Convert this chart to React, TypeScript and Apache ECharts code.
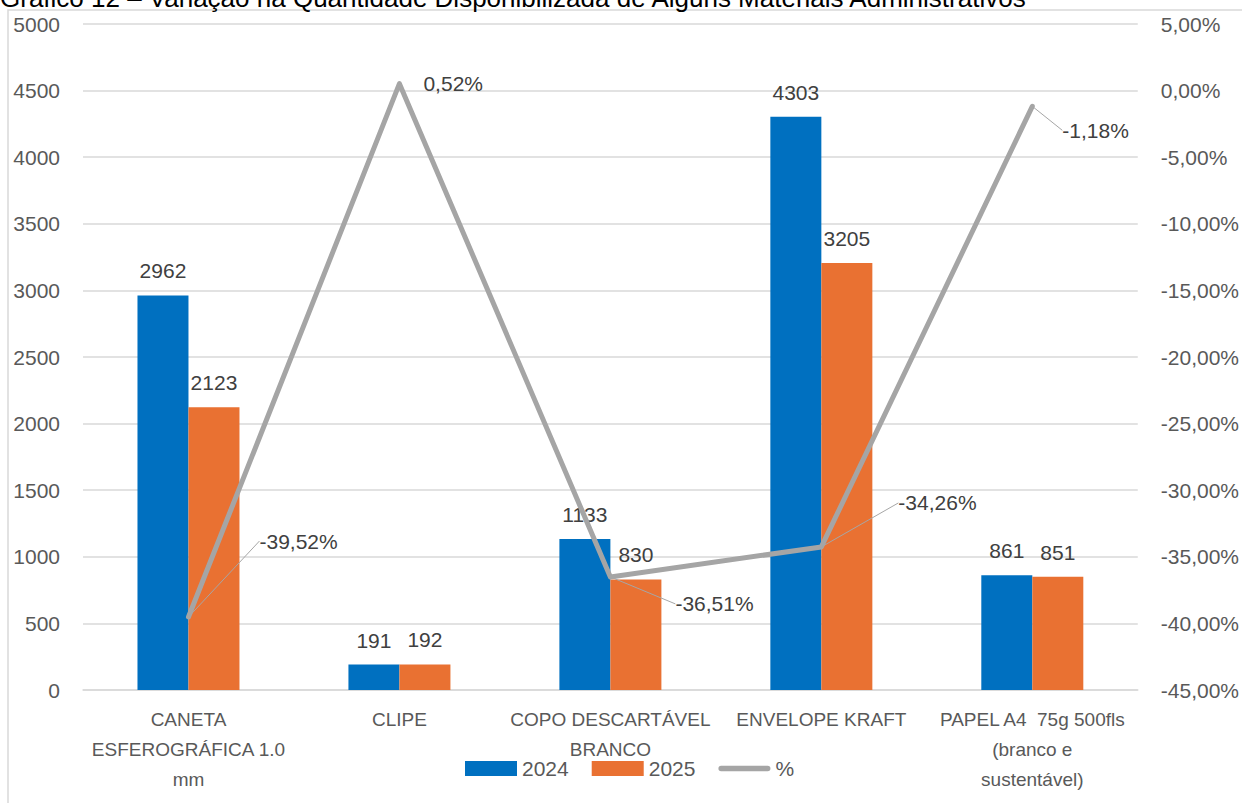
import React, { useEffect, useRef } from "react";
import * as echarts from "echarts";

const titleText =
  "Gráfico 12 – Variação na Quantidade Disponibilizada de Alguns Materiais Administrativos";
const categories = [
  "CANETA\nESFEROGRÁFICA 1.0\nmm",
  "CLIPE",
  "COPO DESCARTÁVEL\nBRANCO",
  "ENVELOPE KRAFT",
  "PAPEL A4  75g 500fls\n(branco e\nsustentável)",
];
const values2024 = [2962, 191, 1133, 4303, 861];
const values2025 = [2123, 192, 830, 3205, 851];
const pctChange = [-39.52, 0.52, -36.51, -34.26, -1.18];
// label displacement (style only)
const pctLabelOffsets = [
  [65, -76, true],
  [18, 0, false],
  [59, 27, true],
  [71, -44, true],
  [24, 24, true],
];

const FONT = "'Liberation Sans', Arial, sans-serif";
const fmtPct = (v: number) => v.toFixed(2).replace(".", ",") + "%";

export default function App() {
  const ref = useRef<HTMLDivElement>(null);
  useEffect(() => {
    const chart = echarts.init(ref.current!, null, { renderer: "svg" });
    chart.setOption({
      animation: false,
      backgroundColor: "#ffffff",
      textStyle: { fontFamily: FONT },
      graphic: [
        {
          type: "rect",
          shape: { x: 8, y: 10, width: 1400, height: 900 },
          style: { fill: "none", stroke: "#D9D9D9", lineWidth: 1.5 },
          silent: true,
        },
        {
          type: "text",
          x: 0,
          y: 11,
          style: {
            text: titleText,
            font: `26px ${FONT}`,
            fill: "#000000",
            verticalAlign: "bottom",
          },
          silent: true,
        },
      ],
      grid: { left: 83, right: 103, top: 24, bottom: 113 },
      legend: {
        left: 460,
        top: 753,
        itemWidth: 52,
        itemHeight: 15,
        itemGap: 23,
        textStyle: { fontSize: 21, color: "#595959", fontFamily: FONT },
        data: [
          { name: "2024", icon: "rect" },
          { name: "2025", icon: "rect" },
          {
            name: "%",
            icon: "path://M2.5,0 H45.5 A2.5,2.5 0 0 1 45.5,5 H2.5 A2.5,2.5 0 0 1 2.5,0 Z",
            itemStyle: { color: "#A5A5A5" },
          },
        ],
      },
      xAxis: {
        type: "category",
        data: categories,
        axisLine: { lineStyle: { color: "#D9D9D9", width: 1.5 } },
        axisTick: { show: false },
        axisLabel: {
          interval: 0,
          color: "#595959",
          fontSize: 19,
          lineHeight: 30,
          margin: 14,
          fontFamily: FONT,
        },
      },
      yAxis: [
        {
          type: "value",
          min: 0,
          max: 5000,
          interval: 500,
          axisLine: { show: false },
          axisTick: { show: false },
          splitLine: { lineStyle: { color: "#D9D9D9", width: 1.5 } },
          axisLabel: {
            color: "#595959",
            fontSize: 21,
            margin: 23,
            fontFamily: FONT,
            formatter: (v: number) => String(v),
          },
        },
        {
          type: "value",
          min: -45,
          max: 5,
          interval: 5,
          axisLine: { show: false },
          axisTick: { show: false },
          splitLine: { show: false },
          axisLabel: {
            color: "#595959",
            fontSize: 21,
            margin: 23,
            fontFamily: FONT,
            formatter: (v: number) => fmtPct(v),
          },
        },
      ],
      series: [
        {
          name: "2024",
          type: "bar",
          data: values2024,
          barWidth: 51,
          barGap: "0%",
          itemStyle: { color: "#0070C0" },
          label: {
            show: true,
            position: "top",
            distance: 14,
            color: "#404040",
            fontSize: 21,
            fontFamily: FONT,
          },
        },
        {
          name: "2025",
          type: "bar",
          data: values2025,
          barWidth: 51,
          barGap: "0%",
          itemStyle: { color: "#E97132" },
          label: {
            show: true,
            position: "top",
            distance: 14,
            color: "#404040",
            fontSize: 21,
            fontFamily: FONT,
          },
        },
        {
          name: "%",
          type: "line",
          yAxisIndex: 1,
          z: 5,
          data: pctChange.map((v, i) => ({
            value: v,
            labelLine: { show: pctLabelOffsets[i][2] as boolean },
          })),
          symbol: "circle",
          symbolSize: 2,
          showSymbol: true,
          itemStyle: { color: "#A5A5A5" },
          lineStyle: { color: "#A5A5A5", width: 5, cap: "round", join: "round" },
          label: {
            show: true,
            position: "right",
            distance: 5,
            color: "#404040",
            fontSize: 21,
            fontFamily: FONT,
            formatter: (p: any) => fmtPct(p.value),
          },
          labelLine: {
            show: true,
            lineStyle: { color: "#A6A6A6", width: 1 },
          },
          labelLayout: (p: any) => ({
            dx: pctLabelOffsets[p.dataIndex][0] as number,
            dy: pctLabelOffsets[p.dataIndex][1] as number,
          }),
        },
      ],
    });
    return () => chart.dispose();
  }, []);
  return (
    <div
      ref={ref}
      style={{ position: "absolute", left: 0, top: 0, width: 1242, height: 803 }}
    />
  );
}
